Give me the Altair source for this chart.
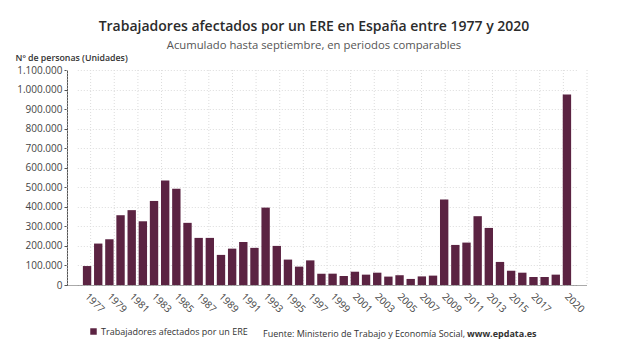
import altair as alt
import pandas as pd

# Workers affected by an ERE (redundancy procedure), cumulative to September
years = list(range(1977, 2021))
workers = [
    97000, 212000, 234000, 357000, 383000, 326000, 430000, 535000, 492000, 318000,
    241000, 241000, 154000, 186000, 220000, 190000, 396000, 200000, 130000, 94000,
    126000, 58000, 58000, 46000, 68000, 53000, 63000, 43000, 50000, 31000,
    44000, 48000, 437000, 205000, 217000, 352000, 292000, 118000, 73000, 63000,
    41000, 41000, 53000, 975000,
]
label_years = list(range(1977, 2018, 2)) + [2020]
y_ticks = list(range(0, 1100001, 100000))
grid_cols = list(range(0, 23))

series_name = "Trabajadores afectados por un ERE"
source_text = "Fuente: Ministerio de Trabajo y Economía Social,"
source_site = "www.epdata.es"

BAR = "#5b2342"
FONT = "Open Sans"
W, H = 520, 215

df = pd.DataFrame({"year": years, "value": workers, "serie": series_name})
grid_df = pd.DataFrame({"col": grid_cols})

# vertical dotted grid across the whole frame; its axis supplies the dotted baseline
vgrid = alt.Chart(grid_df).mark_rule(
    color="#dcdcdc", strokeDash=[1, 2], strokeWidth=1
).encode(
    x=alt.X(
        "col:Q",
        title=None,
        scale=alt.Scale(domain=[0, 22], nice=False, zero=False),
        axis=alt.Axis(
            orient="bottom",
            labels=False,
            ticks=False,
            grid=False,
            domainColor="#555",
            domainDash=[1, 1],
        ),
    )
)

bars = alt.Chart(df).mark_bar(color=BAR).encode(
    x=alt.X(
        "year:O",
        title=None,
        # bars sit inside a narrower band than the plot frame
        scale=alt.Scale(paddingInner=0.25, paddingOuter=0.5, range=[10.3, 509.7]),
        axis=alt.Axis(
            orient="bottom",
            values=label_years,
            labelAngle=45,
            labelAlign="left",
            labelBaseline="top",
            labelFontSize=10,
            labelColor="#444",
            labelPadding=6,
            labelOffset=3,
            labelOverlap=False,
            ticks=False,
            grid=False,
            domain=False,
        ),
    ),
    y=alt.Y(
        "value:Q",
        scale=alt.Scale(domain=[0, 1100000], nice=False),
        axis=alt.Axis(
            values=y_ticks,
            format=",d",
            title="Nº de personas (Unidades)",
            titleAngle=0,
            titleAlign="left",
            titleBaseline="middle",
            titleX=-52,
            titleY=-13,
            titleFontSize=8.8,
            titleFontWeight=600,
            titleColor="#333",
            labelFontSize=10,
            labelColor="#444",
            labelPadding=2,
            labelOverlap=False,
            tickSize=3,
            tickColor="#555",
            domainColor="#555",
            gridColor="#dcdcdc",
            gridDash=[1, 2],
        ),
    ),
    color=alt.Color(
        "serie:N",
        scale=alt.Scale(range=[BAR]),
        legend=alt.Legend(
            title=None,
            orient="none",
            legendX=22,
            legendY=257,
            symbolType="square",
            symbolSize=42,
            symbolStrokeWidth=0,
            symbolOffset=0,
            labelOffset=3,
            labelFontSize=9,
            labelLimit=400,
            labelColor="#333",
            labelFont=FONT,
            padding=0,
        ),
    ),
)

src = alt.Chart(pd.DataFrame({"t": [source_text]})).mark_text(
    align="left", baseline="middle", fontSize=9, color="#333", font=FONT
).encode(text="t:N", x=alt.value(196), y=alt.value(264))

site = alt.Chart(pd.DataFrame({"t": [source_site]})).mark_text(
    align="left", baseline="middle", fontSize=9, color="#333", font=FONT, fontWeight="bold"
).encode(text="t:N", x=alt.value(400), y=alt.value(264))

chart = alt.layer(vgrid, bars, src, site).resolve_scale(x="independent").properties(
    width=W,
    height=H,
    padding={"left": 67, "top": 70, "right": 33, "bottom": 65},
    autosize=alt.AutoSizeParams(type="none"),
    title=alt.TitleParams(
        text="Trabajadores afectados por un ERE en España entre 1977 y 2020",
        subtitle="Acumulado hasta septiembre, en periodos comparables",
        anchor="middle",
        frame="group",
        dx=-13,
        offset=2,
        font=FONT,
        fontSize=14,
        fontWeight=600,
        color="#2b2b2b",
        subtitleFont=FONT,
        subtitleFontSize=11.3,
        subtitleColor="#555",
        subtitlePadding=6,
    ),
).configure(
    font=FONT,
    locale={"number": {"decimal": ",", "thousands": ".", "grouping": [3], "currency": ["", " €"]}},
).configure_view(stroke=None)

chart.save("out.html", embed_options={"renderer": "svg", "actions": False})
